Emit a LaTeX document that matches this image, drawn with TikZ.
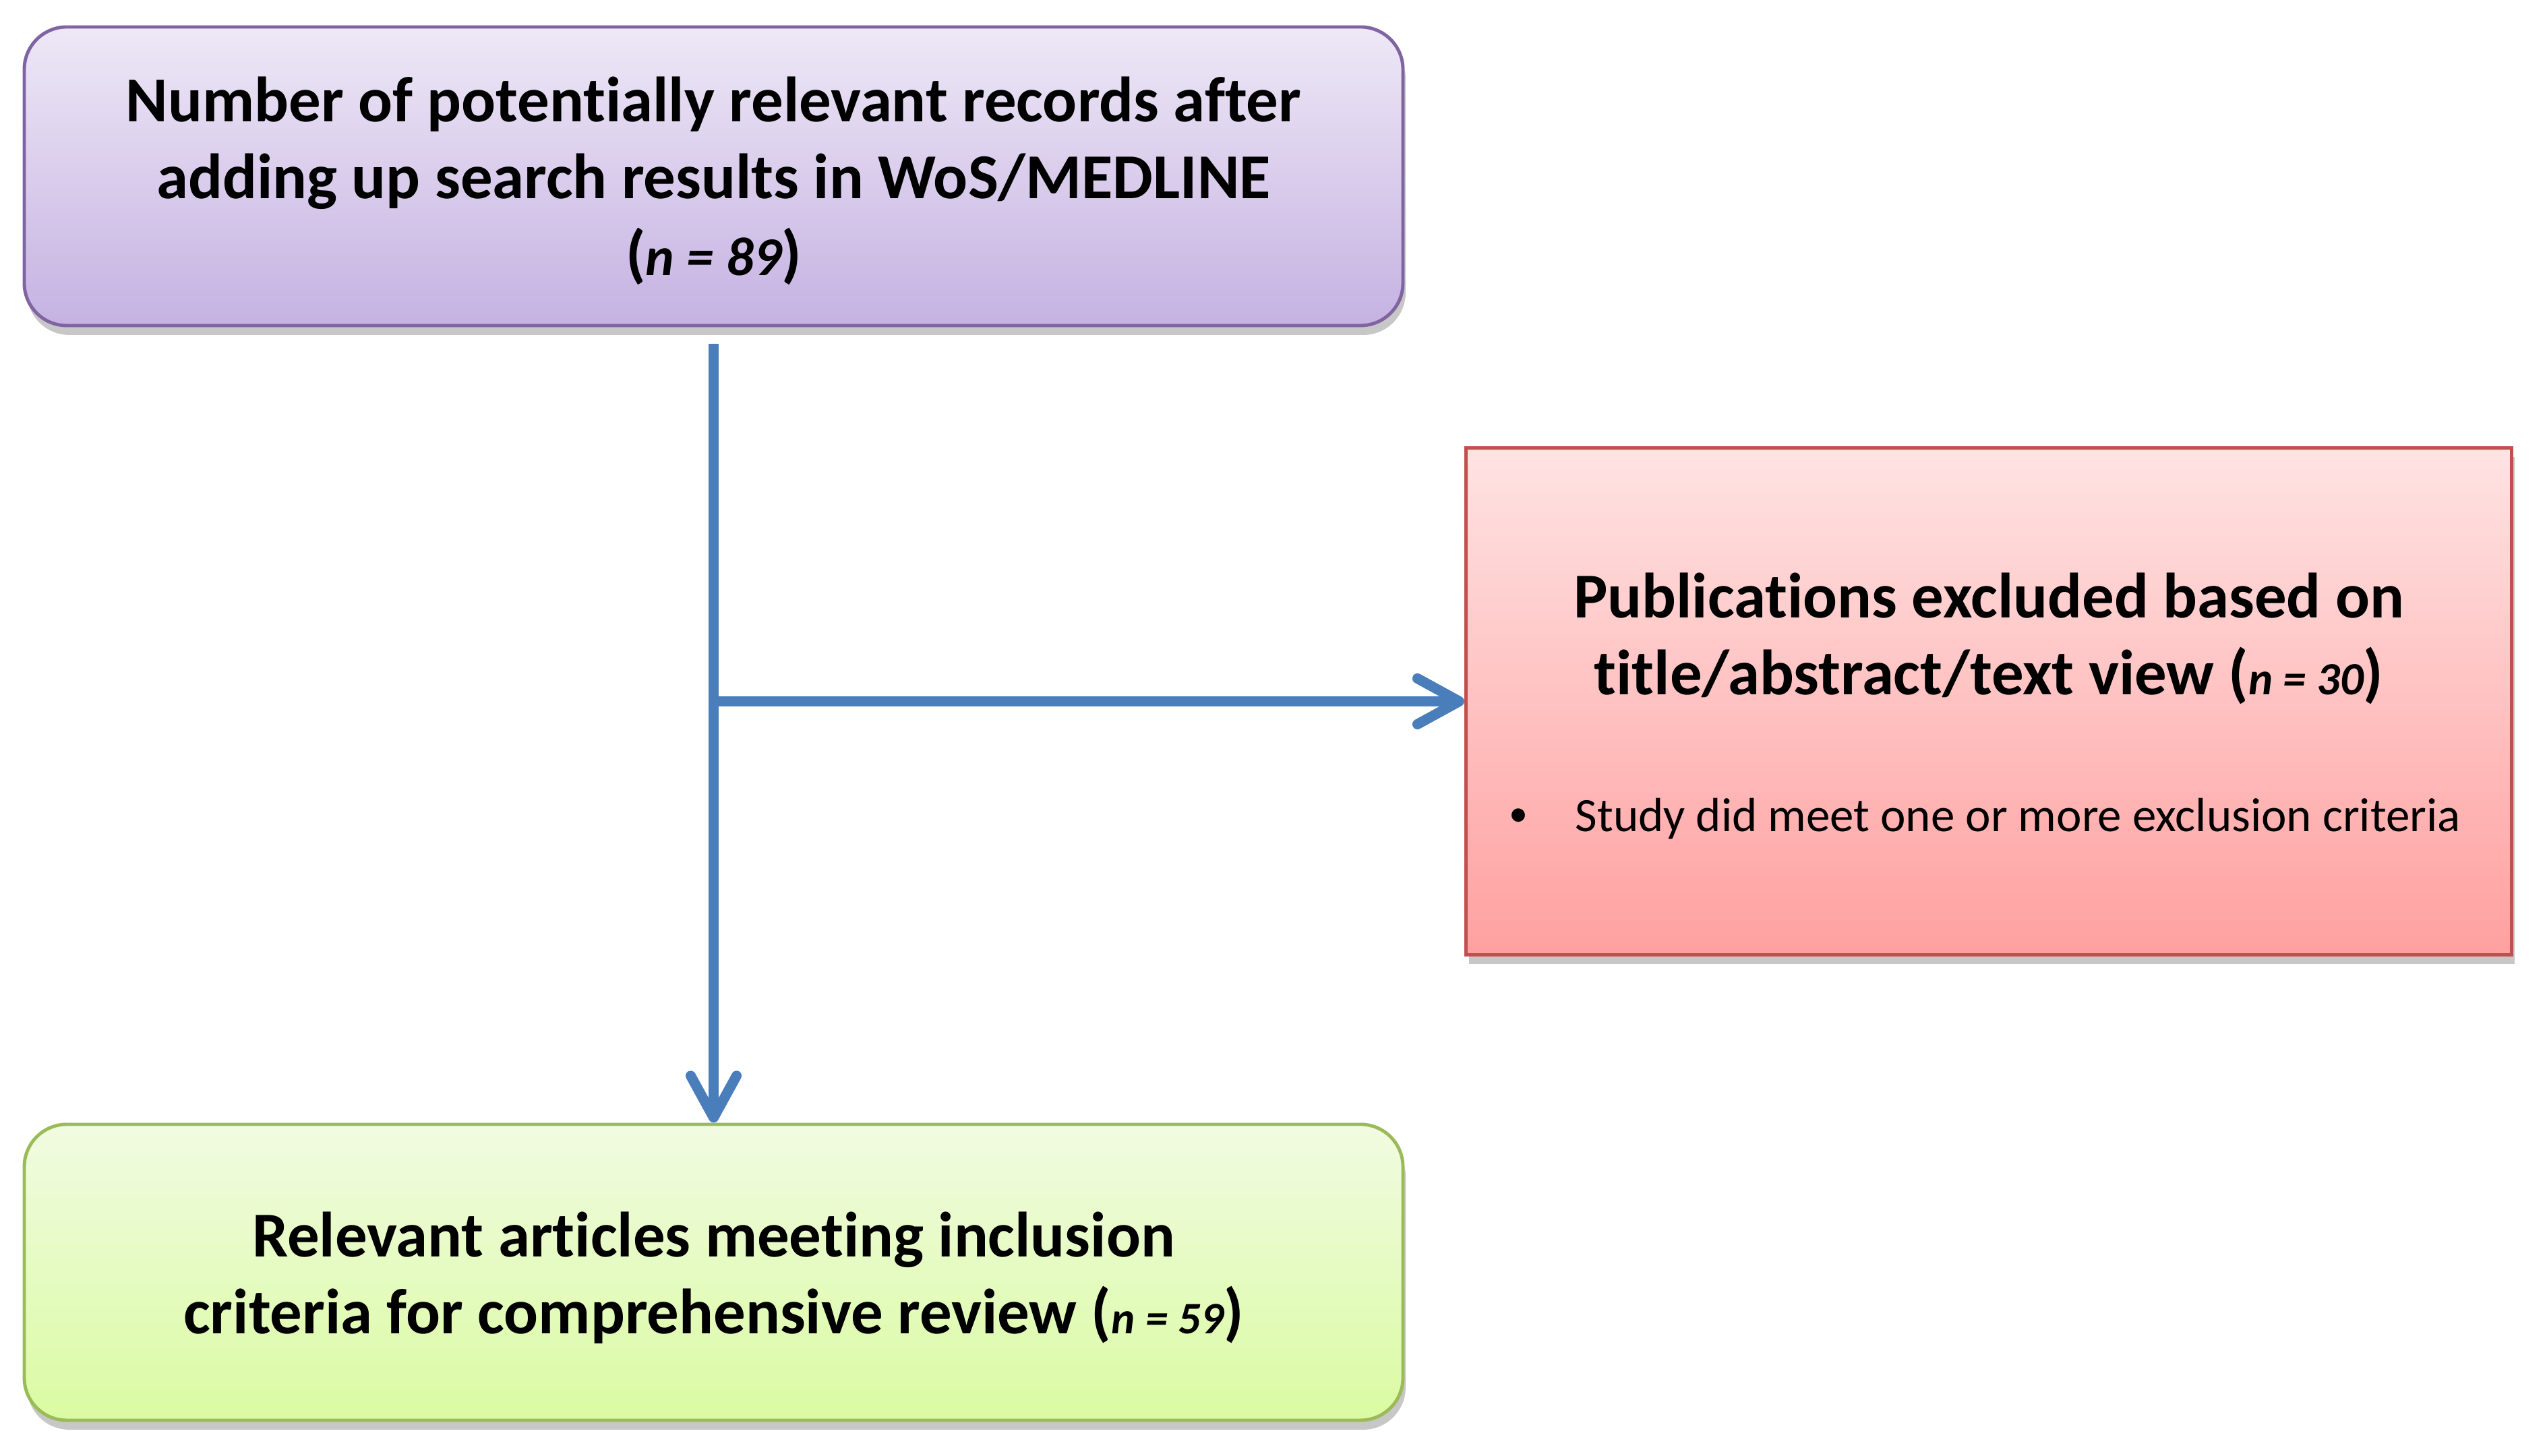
\documentclass[tikz,border=0pt]{standalone}
\usepackage{fontspec}
\setmainfont{Carlito}[Ligatures=NoCommon]
\usetikzlibrary{arrows.meta,shadows}

\definecolor{arrowblue}{HTML}{4A7EBB}
\definecolor{purpleborder}{HTML}{8064A2}
\definecolor{purpletop}{HTML}{EEE8F6}
\definecolor{purplebot}{HTML}{C5B2E2}
\definecolor{redborder}{HTML}{C0504D}
\definecolor{redtop}{HTML}{FFE3E3}
\definecolor{redbot}{HTML}{FFA0A0}
\definecolor{greenborder}{HTML}{9BBB59}
\definecolor{greentop}{HTML}{F1FBE1}
\definecolor{greenbot}{HTML}{DAFBA2}

% count label: italic, at a reduced size (#1 = size in pt, #2 = number)
\newcommand{\countn}[2]{{\fontsize{#1}{#1}\selectfont\bfseries\itshape n = #2}}

\tikzset{
  boxbase/.style={inner sep=0pt, line width=1.4pt,
    drop shadow={shadow xshift=0.04cm, shadow yshift=-0.14cm, opacity=0.22, fill=black}},
  titlefont/.style={font=\fontsize{27}{32.4}\selectfont\bfseries},
  purplebox/.style={boxbase, draw=purpleborder, rounded corners=0.63cm,
    top color=purpletop, bottom color=purplebot, minimum width=20.45cm, minimum height=4.43cm},
  greenbox/.style={boxbase, draw=greenborder, rounded corners=0.63cm,
    top color=greentop, bottom color=greenbot, minimum width=20.45cm, minimum height=4.39cm},
  redbox/.style={boxbase, draw=redborder,
    top color=redtop, bottom color=redbot, minimum width=15.51cm, minimum height=7.52cm},
  boxtitle/.style={titlefont, align=center, inner sep=0pt},
  bullettext/.style={font=\fontsize{20.2}{24}\selectfont, inner sep=0pt, anchor=west},
  bulletmark/.style={font=\fontsize{16}{20}\selectfont, inner sep=0pt},
  flow/.style={draw=arrowblue, line width=4.3pt,
    -{Straight Barb[length=0.62cm, width=0.68cm, round]}},
}

\begin{document}
\begin{tikzpicture}
  \useasboundingbox (0,0) rectangle (37.75,21.6);
  \fill[white] (0,0) rectangle (37.75,21.6);

  \node[purplebox] (records) at (10.585,18.985) {};
  \node[boxtitle] (recordstext) at ([yshift=-0.07cm]records.center)
    {Number of potentially relevant records after\\
     adding up search results in WoS/MEDLINE\\
     (\countn{23}{89})};

  \node[redbox] (excl) at (29.50,11.195) {};
  \node[boxtitle] (excltitle) at ([yshift=0.935cm]excl.center)
    {Publications excluded based on\\
     title/abstract/text view (\countn{19.5}{30})};
  \node[bulletmark] (bulletdot) at (22.52,9.47) {\textbullet};
  \node[bullettext] (bulletline) at (23.36,9.45)
    {Study did meet one or more exclusion criteria};

  \node[greenbox] (incl) at (10.585,2.725) {};
  \node[boxtitle] (incltext) at ([yshift=-0.085cm]incl.center)
    {Relevant articles meeting inclusion\\
     criteria for comprehensive review (\countn{19}{59})};

  \coordinate (start) at ([yshift=-0.25cm]records.south);
  \coordinate (junction) at (records.south |- excl.west);

  \draw[flow] (start) -- (incl.north);
  \draw[flow] (junction) -- (excl.west);
\end{tikzpicture}
\end{document}
